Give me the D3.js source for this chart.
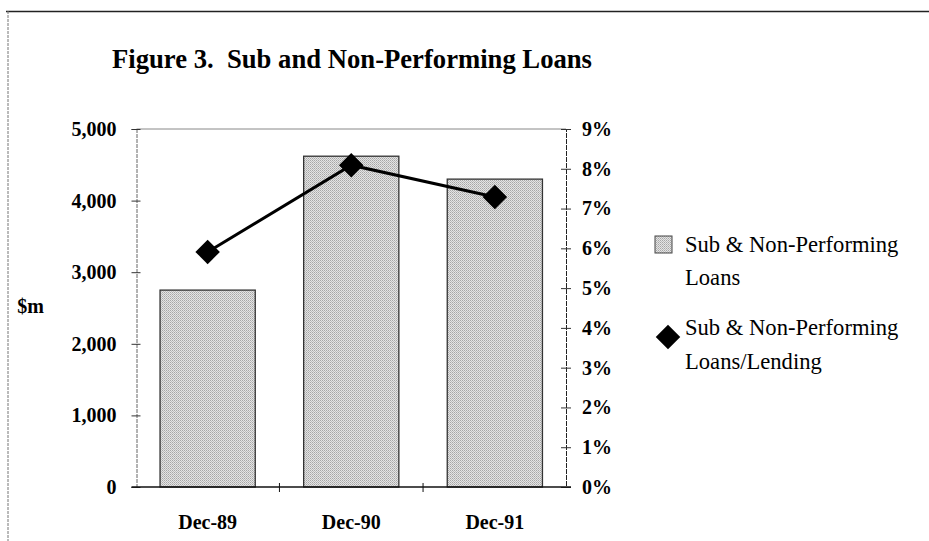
<!DOCTYPE html>
<html><head><meta charset="UTF-8">
  <title>Sub and Non-Performing Loans</title>
  <script src="https://d3js.org/d3.v7.min.js"></script>
  <style>
    body { margin: 0; background: #fff; }
    text { font-family: "Liberation Serif", "Times New Roman", serif; }
  </style>
</head>
<body>
  <svg width="929" height="541"></svg>
  <script>
    // chart data
    const periods = ["Dec-89", "Dec-90", "Dec-91"];
    const loans = [2750, 4620, 4300];          // $m
    const loanRatio = [5.91, 8.09, 7.29];      // % of lending
    const leftTicks = [0, 1000, 2000, 3000, 4000, 5000];
    const rightTicks = [0, 1, 2, 3, 4, 5, 6, 7, 8, 9];

    const svg = d3.select("svg");

    // page frame
    svg.append("line").attr("x1", 6).attr("x2", 929).attr("y1", 11.5).attr("y2", 11.5)
      .attr("stroke", "#222").attr("stroke-width", 1.5);
    svg.append("line").attr("x1", 8).attr("x2", 8).attr("y1", 11).attr("y2", 541)
      .attr("stroke", "#777").attr("stroke-width", 1).attr("stroke-dasharray", "3,1");

    svg.append("text")
      .attr("x", 112).attr("y", 68)
      .attr("font-size", 27).attr("font-weight", "bold")
      .attr("textLength", 480).attr("lengthAdjust", "spacingAndGlyphs")
      .style("white-space", "pre")
      .text("Figure 3.  Sub and Non-Performing Loans");

    const plot = {left: 136.5, right: 566, top: 129, bottom: 487};

    const x = d3.scaleBand().domain(periods).range([plot.left, plot.right])
      .paddingInner(0.337).paddingOuter(0.164);
    const yL = d3.scaleLinear().domain([0, 5000]).range([plot.bottom, plot.top]);
    const yR = d3.scaleLinear().domain([0, 9]).range([plot.bottom, plot.top]);
    const mid = d => x(d) + x.bandwidth() / 2;

    // stipple fill
    const pat = svg.append("defs").append("pattern")
      .attr("id", "stip").attr("width", 2).attr("height", 2)
      .attr("patternUnits", "userSpaceOnUse");
    pat.append("rect").attr("width", 2).attr("height", 2).attr("fill", "#e4e4e4");
    pat.append("rect").attr("width", 1).attr("height", 1).attr("fill", "#a6a6a6");
    pat.append("rect").attr("x", 1).attr("y", 1).attr("width", 1).attr("height", 1).attr("fill", "#bcbcbc");

    // plot area top edge
    svg.append("line").attr("x1", plot.left).attr("x2", plot.right)
      .attr("y1", plot.top).attr("y2", plot.top).attr("stroke", "#888");

    // bars
    svg.selectAll("rect.bar").data(loans).join("rect")
      .attr("class", "bar")
      .attr("x", (d, i) => x(periods[i]))
      .attr("y", d => yL(d))
      .attr("width", x.bandwidth())
      .attr("height", d => yL(0) - yL(d))
      .attr("fill", "url(#stip)")
      .attr("stroke", "#333").attr("stroke-width", 1.3);

    // left axis
    const gL = svg.append("g").attr("transform", `translate(${plot.left},0)`)
      .call(d3.axisLeft(yL).tickValues(leftTicks).tickFormat(d3.format(",")).tickSize(5).tickPadding(15));
    gL.select(".domain").attr("stroke", "#666").attr("stroke-dasharray", "4,1");
    gL.selectAll(".tick line").attr("x2", 4).attr("x1", -5).attr("stroke", "#333");
    gL.selectAll(".tick text").attr("font-size", 20).attr("font-weight", "bold")
      .attr("font-family", "Liberation Serif").attr("fill", "#000");

    // right axis
    const gR = svg.append("g").attr("transform", `translate(${plot.right},0)`)
      .call(d3.axisRight(yR).tickValues(rightTicks).tickFormat(d => d + "%").tickSize(5).tickPadding(11));
    gR.select(".domain").attr("stroke", "#222").attr("stroke-dasharray", "5,1");
    gR.selectAll(".tick line").attr("x1", -5).attr("x2", 5).attr("stroke", "#333");
    gR.selectAll(".tick text").attr("font-size", 20).attr("font-weight", "bold")
      .attr("font-family", "Liberation Serif").attr("fill", "#000");

    // x axis baseline and category separators
    svg.append("line").attr("x1", plot.left - 5).attr("x2", plot.right + 5)
      .attr("y1", plot.bottom).attr("y2", plot.bottom).attr("stroke", "#111").attr("stroke-width", 1.5);
    const gap = x.paddingInner() * x.step() / 2;
    svg.selectAll("line.sep").data(periods.slice(1)).join("line")
      .attr("class", "sep")
      .attr("x1", d => x(d) - gap).attr("x2", d => x(d) - gap)
      .attr("y1", plot.bottom - 4).attr("y2", plot.bottom + 5)
      .attr("stroke", "#111");
    svg.selectAll("text.cat").data(periods).join("text")
      .attr("class", "cat")
      .attr("x", mid)
      .attr("y", 529)
      .attr("text-anchor", "middle")
      .attr("font-size", 20).attr("font-weight", "bold")
      .text(d => d);

    svg.append("text").attr("x", 44).attr("y", 313).attr("text-anchor", "end")
      .attr("font-size", 20).attr("font-weight", "bold").text("$m");

    // ratio line
    const line = d3.line().x((d, i) => mid(periods[i])).y(d => yR(d));
    svg.append("path").datum(loanRatio)
      .attr("d", line).attr("fill", "none")
      .attr("stroke", "#000").attr("stroke-width", 3);
    const diamond = d3.symbol().type(d3.symbolSquare).size(300);
    svg.selectAll("path.pt").data(loanRatio).join("path")
      .attr("class", "pt")
      .attr("d", diamond)
      .attr("transform", (d, i) => `translate(${mid(periods[i])},${yR(d)}) rotate(45)`)
      .attr("fill", "#000");

    // legend
    const lg = svg.append("g").attr("font-size", 22.6);
    lg.append("rect").attr("x", 655).attr("y", 236).attr("width", 17).attr("height", 17)
      .attr("fill", "url(#stip)").attr("stroke", "#444");
    lg.append("text").attr("x", 685).attr("y", 252).text("Sub & Non-Performing");
    lg.append("text").attr("x", 685).attr("y", 285).text("Loans");
    lg.append("path").attr("d", diamond)
      .attr("transform", "translate(668,337) rotate(45)").attr("fill", "#000");
    lg.append("text").attr("x", 685).attr("y", 335).text("Sub & Non-Performing");
    lg.append("text").attr("x", 685).attr("y", 369).text("Loans/Lending");
  </script>
</body></html>
